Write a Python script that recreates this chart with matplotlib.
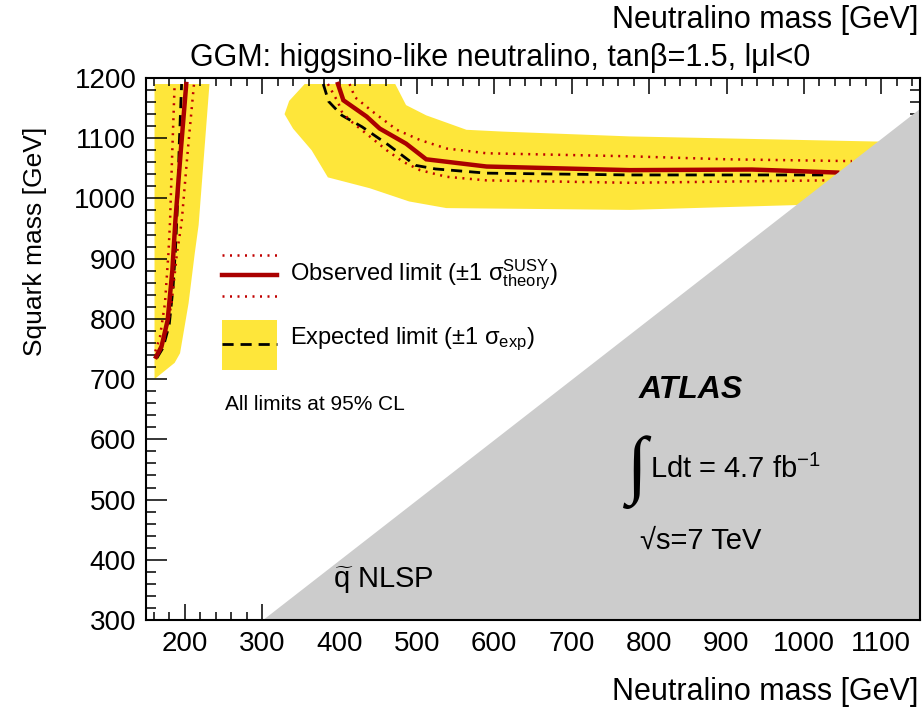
import numpy as np
import matplotlib.pyplot as plt

plt.rcParams['font.family'] = ['Liberation Sans', 'DejaVu Sans']
plt.rcParams['mathtext.fontset'] = 'custom'
plt.rcParams['mathtext.rm'] = 'Liberation Sans'
plt.rcParams['mathtext.it'] = 'Liberation Sans:italic'
plt.rcParams['mathtext.bf'] = 'Liberation Sans:bold'

# --- limit contours (neutralino mass, squark mass) in GeV ---
# low-mass branch
obs_lo_x = [163, 170, 178, 184, 188, 195, 202]
obs_lo_y = [737, 754, 798, 880, 964, 1080, 1190]
obs_lo_up_x = [165, 175, 183, 190, 196, 204, 212]
obs_lo_up_y = [743, 770, 826, 909, 960, 1080, 1190]
obs_lo_dn_x = [162, 168, 174.5, 179, 181, 184, 187]
obs_lo_dn_y = [746, 770, 826, 909, 960, 1080, 1190]
exp_lo_x = [164, 172, 180, 185, 188, 191, 193, 196]
exp_lo_y = [735, 752, 790, 853, 914, 1000, 1091, 1190]
band_lo_x = [161, 161, 232, 218, 213, 205, 194, 187, 162]
band_lo_y = [701, 1190, 1190, 956, 909, 826, 743, 727, 701]

# high-mass branch
obs_hi_x = [398, 405, 435, 452, 486, 512, 590, 775, 933, 1000, 1043]
obs_hi_y = [1190, 1163, 1136, 1116, 1091, 1065, 1053, 1047, 1048, 1045, 1043]
obs_hi_up_x = [413, 420, 443, 474, 504, 538, 590, 775, 900, 1062]
obs_hi_up_y = [1190, 1168, 1144, 1114, 1097, 1083, 1075, 1070, 1065, 1062]
obs_hi_dn_x = [385, 398, 403, 413, 439, 461, 482, 504, 538, 590, 775, 900, 1030]
obs_hi_dn_y = [1190, 1160, 1144, 1130, 1103, 1080, 1061, 1047, 1036, 1030, 1026, 1028, 1030]
exp_hi_x = [379, 386, 403, 429, 463, 498, 524, 590, 775, 1000, 1028]
exp_hi_y = [1190, 1161, 1138, 1119, 1089, 1055, 1049, 1042, 1039, 1039, 1039]
band_hi_x = [355, 472, 486, 512, 564, 611, 775, 1150,
             1150, 990, 775, 538, 490, 439, 385, 364, 340, 329, 335, 355]
band_hi_y = [1190, 1190, 1155, 1138, 1114, 1111, 1103, 1093,
             990, 989, 981, 984, 995, 1017, 1035, 1080, 1116, 1140, 1162, 1190]

xmin, xmax = 150, 1150
ymin, ymax = 300, 1200

yellow = '#fee63a'
red = '#aa0000'
dotred = '#c00000'

fig = plt.figure(figsize=(9.22, 7.09), dpi=100)
ax = fig.add_axes([146/922, 89/709, 774/922, 542/709])

# expected +-1 sigma bands
ax.fill(band_lo_x, band_lo_y, color=yellow, lw=0, zorder=1)
ax.fill(band_hi_x, band_hi_y, color=yellow, lw=0, zorder=1)

dot_kw = dict(color=dotred, lw=1.8, ls=(0, (0.8, 2.2)), zorder=3)
dash_kw = dict(color='black', lw=2.0, ls=(0, (4, 2.5)), zorder=2)
obs_kw = dict(color=red, lw=3.2, solid_joinstyle='miter', zorder=4)

for xs, ys in [(exp_lo_x, exp_lo_y), (exp_hi_x, exp_hi_y)]:
    ax.plot(xs, ys, **dash_kw)
for xs, ys in [(obs_lo_up_x, obs_lo_up_y), (obs_lo_dn_x, obs_lo_dn_y),
               (obs_hi_up_x, obs_hi_up_y), (obs_hi_dn_x, obs_hi_dn_y)]:
    ax.plot(xs, ys, **dot_kw)
for xs, ys in [(obs_lo_x, obs_lo_y), (obs_hi_x, obs_hi_y)]:
    ax.plot(xs, ys, **obs_kw)

# squark NLSP region: squark lighter than neutralino
diag = np.array([ymin, xmax])
ax.fill_between(diag, diag, ymin, color='#cccccc', lw=0, zorder=5)

ax.set_xlim(xmin, xmax)
ax.set_ylim(ymin, ymax)
ax.set_xticks(np.arange(200, 1101, 100))
ax.set_yticks(np.arange(300, 1201, 100))
ax.set_xticks(np.arange(160, 1150, 20), minor=True)
ax.set_yticks(np.arange(300, 1201, 20), minor=True)
ax.tick_params(which='both', direction='in', top=True, right=True,
               width=1.1, labelsize=20, color='black')
ax.tick_params(axis='x', which='major', length=11.5, pad=8)
ax.tick_params(axis='x', which='minor', length=5.8)
ax.tick_params(axis='y', which='major', length=15, pad=7)
ax.tick_params(axis='y', which='minor', length=7.5)
for sp in ax.spines.values():
    sp.set_linewidth(1.5)
    sp.set_zorder(10)

# axis titles
fig.text(918/922, 1 - 692/709, 'Neutralino mass [GeV]', ha='right', va='center', fontsize=22)
fig.text(918/922, 1 - 20/709, 'Neutralino mass [GeV]', ha='right', va='center', fontsize=22)
fig.text(35/922, 1 - 241/709, 'Squark mass [GeV]', rotation=90, ha='center', va='center', fontsize=19)
fig.text(500/922, 1 - 58/709, 'GGM: higgsino-like neutralino, tanβ=1.5, lμl<0',
         ha='center', va='center', fontsize=22)

# legend
tr = ax.transAxes
ax.plot([0.098, 0.169], [0.673, 0.673], transform=tr, **dot_kw)
ax.plot([0.098, 0.169], [0.598, 0.598], transform=tr, **dot_kw)
ax.plot([0.098, 0.169], [0.6365, 0.6365], transform=tr, **obs_kw)
ax.fill([0.098, 0.169, 0.169, 0.098], [0.461, 0.461, 0.554, 0.554],
        transform=tr, color=yellow, lw=0, zorder=1)
ax.plot([0.098, 0.169], [0.509, 0.509], transform=tr, **dash_kw)
ax.text(0.186, 0.6365, r'Observed limit ($\pm$1 $\mathrm{\sigma}^{\mathrm{SUSY}}_{\mathrm{theory}}$)',
        transform=tr, ha='left', va='center', fontsize=17, zorder=6)
ax.text(0.186, 0.517, r'Expected limit ($\pm$1 $\mathrm{\sigma}_{\mathrm{exp}}$)',
        transform=tr, ha='left', va='center', fontsize=17, zorder=6)
ax.text(0.102, 0.397, 'All limits at 95% CL', transform=tr,
        ha='left', va='center', fontsize=15, zorder=6)

# ATLAS labels
ax.text(0.636, 0.424, 'ATLAS', transform=tr, ha='left', va='center',
        fontsize=23, fontweight='bold', fontstyle='italic', zorder=6)
ax.text(0.622, 0.272, '∫', transform=tr, ha='left', va='center',
        fontsize=54, family='Liberation Serif', zorder=6)
ax.text(0.651, 0.277, r'Ldt = 4.7 fb$^{\mathrm{-1}}$', transform=tr,
        ha='left', va='center', fontsize=21, zorder=6)
ax.text(0.638, 0.146, '√s=7 TeV', transform=tr, ha='left', va='center',
        fontsize=21, zorder=6)
ax.text(0.2416, 0.074, r'$\widetilde{\mathrm{q}}$ NLSP', transform=tr,
        ha='left', va='center', fontsize=21, zorder=6)

fig.savefig('out.png', dpi=100)
